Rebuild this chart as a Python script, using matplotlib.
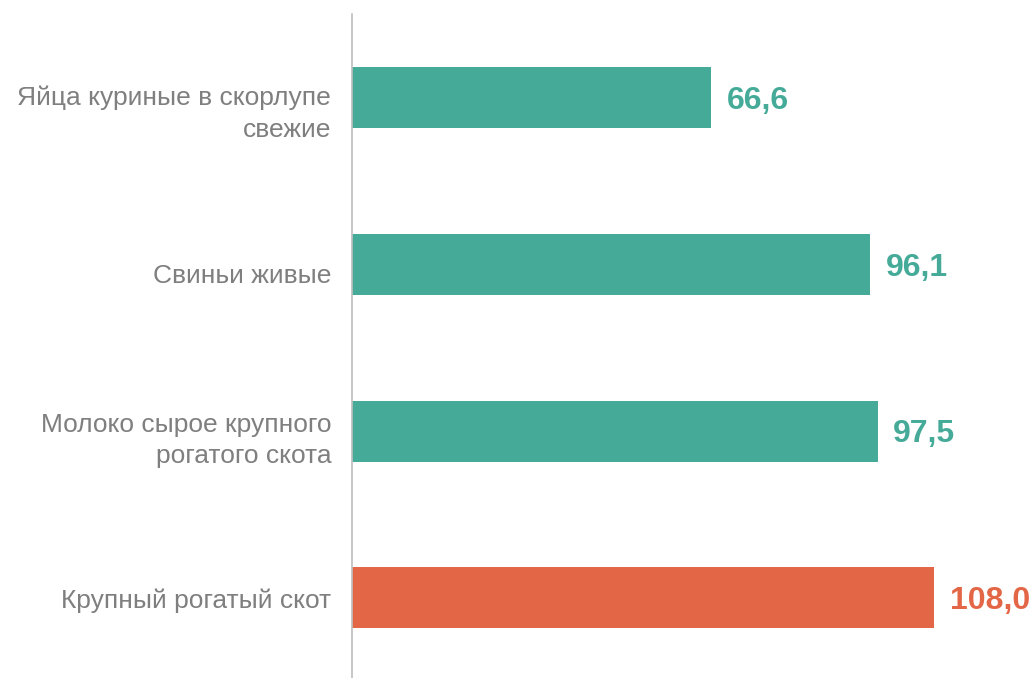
import matplotlib.pyplot as plt
from matplotlib.transforms import ScaledTranslation

plt.rcParams['font.family'] = ['Liberation Sans', 'DejaVu Sans']

categories = [
    "Яйца куриные в скорлупе\nсвежие",
    "Свиньи живые",
    "Молоко сырое крупного\nрогатого скота",
    "Крупный рогатый скот",
]
values = [66.6, 96.1, 97.5, 108.0]
value_labels = ["66,6", "96,1", "97,5", "108,0"]

teal = "#45AB98"
orange = "#E36746"
colors = [teal, teal, teal, orange]

# downward nudge of category labels (px) as seen in the source
label_shift = [10, 9, 3, 0]

fig = plt.figure(figsize=(10.34, 6.78), dpi=100)
ax = fig.add_axes([352 / 1034, 0, 1 - 352 / 1034, 1 - 14 / 678])

pos = list(range(len(values)))
ax.barh(pos, values, height=0.366, color=colors)

for p, v, lab, c in zip(pos, values, value_labels, colors):
    ax.text(v + 2.9, p + 0.02, lab, va="center", ha="left", fontsize=23,
            fontweight="bold", color=c)

ax.set_xlim(0, 126.5)
ax.set_ylim(3.48, -0.5)
ax.set_yticks(pos)
ax.set_yticklabels(categories, fontsize=19, color="#7F7F7F", ha="right",
                   linespacing=1.4)
ax.tick_params(axis="y", length=0, pad=15)
ax.set_xticks([])

for tl, dy in zip(ax.get_yticklabels(), label_shift):
    tl.set_transform(tl.get_transform() +
                     ScaledTranslation(0, -dy / 100, fig.dpi_scale_trans))

for s in ["top", "right", "bottom"]:
    ax.spines[s].set_visible(False)
ax.spines["left"].set_color("#BFBFBF")
ax.spines["left"].set_linewidth(1.2)

fig.savefig("out.png", dpi=100)
